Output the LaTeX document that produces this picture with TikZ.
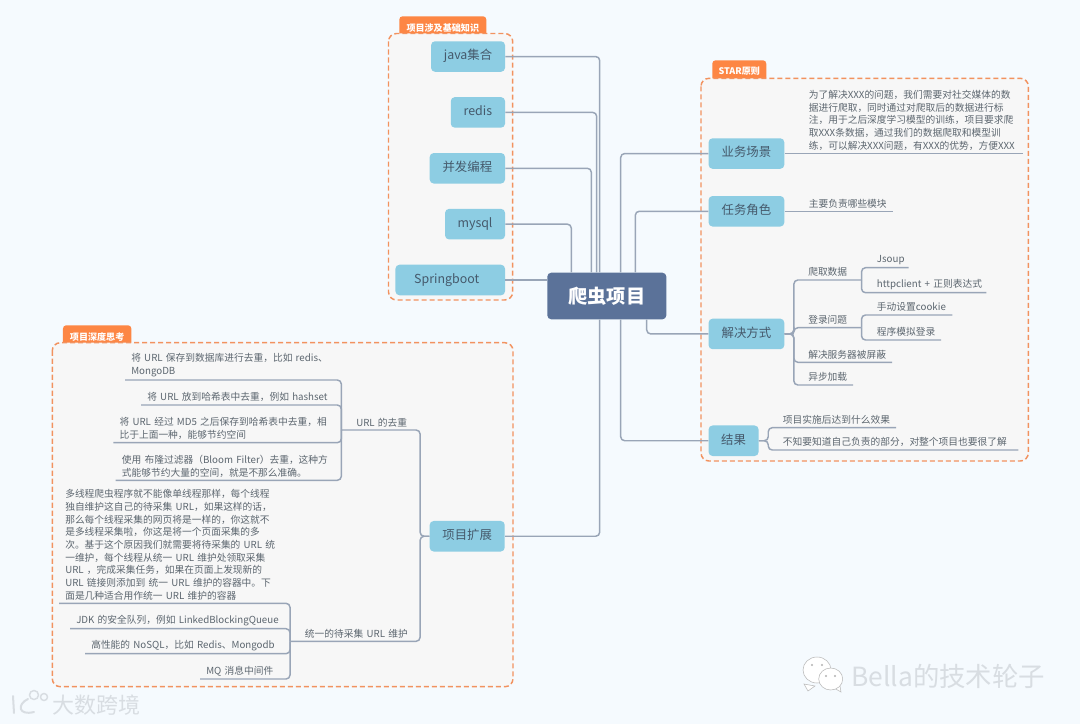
\documentclass[tikz,border=0pt]{standalone}
\usepackage{fontspec}
\setmainfont{Noto Sans CJK SC}
\usepackage{xcolor}
\usetikzlibrary{positioning}
\definecolor{pagebg}{HTML}{F5FAFE}
\definecolor{framebg}{HTML}{F7F7F7}
\definecolor{frameline}{HTML}{F2925F}
\definecolor{tabbg}{HTML}{FD8644}
\definecolor{branchbg}{HTML}{8DCDE3}
\definecolor{rootbg}{HTML}{5B7299}
\definecolor{linkcol}{HTML}{99A5B7}
\definecolor{branchtext}{HTML}{45596B}
\definecolor{leaftext}{HTML}{5C666F}
\definecolor{marktext}{HTML}{D8DDE2}
\tikzset{
  rootbox/.style={fill=rootbg,text=white,rounded corners=3pt,align=center,inner sep=0pt,
    minimum width=89.3pt,minimum height=35pt,font=\fontsize{14.4}{16}\selectfont\bfseries},
  branchbox/.style={fill=branchbg,text=branchtext,rounded corners=3pt,align=center,inner sep=0pt,
    text height=7.5pt,text depth=2.5pt,minimum height=22.9pt,font=\fontsize{9.3}{11}\selectfont},
  leaf/.style={text=leaftext,anchor=south west,align=left,inner xsep=4.5pt,inner ysep=2.2pt,
    text width=(#1-12)*0.75pt,font=\fontsize{7.3}{9.5}\selectfont},
  tabbox/.style={fill=tabbg,text=white,rounded corners=2.5pt,inner sep=0pt,align=center,
    minimum height=17pt,font=\fontsize{6.8}{8}\selectfont\bfseries},
  groupframe/.style={draw=frameline,fill=framebg,line width=1.1pt,rounded corners=6pt,
    dash pattern=on 3.8pt off 2.2pt},
  linkline/.style={draw=linkcol,line width=1.1pt,rounded corners=3pt},
  marklabel/.style={text=marktext,inner sep=0pt,anchor=west},
  markshape/.style={draw=black!28,fill=white,line width=0.4pt},
  logoline/.style={draw=marktext,line width=1.5pt,line cap=round}
}
\begin{document}
\begin{tikzpicture}[x=0.75pt,y=-0.75pt]
  \fill[pagebg] (0,0) rectangle (1080,724);
  \useasboundingbox (0,0) rectangle (1080,724);
  % group frames
  \node[tabbox,minimum width=65.3pt,anchor=north west] (tabbase) at (399,16) {项目涉及基础知识};
  \node[tabbox,minimum width=40.5pt,anchor=north west] (tabstar) at (712,60) {STAR原则};
  \node[tabbox,minimum width=51.3pt,anchor=north west] (tabdeep) at (62.7,325) {项目深度思考};
  \draw[groupframe] (388.5,33.5) rectangle (512.7,300);
  \draw[groupframe] (701,78.3) rectangle (1028.3,461);
  \draw[groupframe] (52.3,342.7) rectangle (513,686.7);
  % centre
  \node[rootbox] (root) at (606.8,296) {爬虫项目};
  % base knowledge
  \node[branchbox,minimum width=55.5pt,anchor=north east] (java) at (505.3,41) {java集合};
  \node[branchbox,minimum width=40.7pt,below=18.6pt of java.south east,anchor=north east] (redis) {redis};
  \node[branchbox,minimum width=56.5pt,below=18.6pt of redis.south east,anchor=north east] (bfbc) {并发编程};
  \node[branchbox,minimum width=45pt,below=18.6pt of bfbc.south east,anchor=north east] (mysql) {mysql};
  \node[branchbox,minimum width=82.2pt,text width=78pt,align=flush left,below=18.6pt of mysql.south east,anchor=north east] (spring) {\hspace{12pt}Springboot};
  \draw[linkline] (java.east) -| (599.7,0 |- root.north);
  \draw[linkline] (redis.east) -| (596.7,0 |- root.north);
  \draw[linkline] (bfbc.east) -| (591.3,0 |- root.north);
  \draw[linkline] (mysql.east) -| (571.3,0 |- root.north);
  \draw[linkline] (spring.east) -- (spring.east -| root.west);
  % STAR
  \node[branchbox,minimum width=56.8pt,anchor=north west] (ywcj) at (708.3,138) {业务场景};
  \node[branchbox,minimum width=56.8pt,below=20pt of ywcj.south west,anchor=north west] (rwjs) {任务角色};
  \node[branchbox,minimum width=56.8pt,below=68.7pt of rwjs.south west,anchor=north west] (jjfs) {解决方式};
  \node[branchbox,minimum width=37.5pt,below=56.8pt of jjfs.south west,anchor=north west] (jieguo) {结果};
  \draw[linkline] (620.7,0 |- root.north) |- (ywcj.west);
  \draw[linkline] (635.3,0 |- root.north) |- (rwjs.west);
  \draw[linkline] (646.7,0 |- root.south) |- (jjfs.west);
  \draw[linkline] (620.7,0 |- root.south) |- (jieguo.west);
  \node[leaf=219.7,right=13.5pt of ywcj.east,anchor=south west] (ywtext)
    {为了解决XXX的问题，我们需要对社交媒体的数\\
    据进行爬取，同时通过对爬取后的数据进行标\\
    注，用于之后深度学习模型的训练，项目要求爬\\
    取XXX条数据，通过我们的数据爬取和模型训\\
    练，可以解决XXX问题，有XXX的优势，方便XXX};
  \node[leaf=89.7,right=13.5pt of rwjs.east,anchor=south west] (rwtext) {主要负责哪些模块};
  \draw[linkline] (ywcj.east) -- (ywtext.south east);
  \draw[linkline] (rwjs.east) -- (rwtext.south east);
  \node[leaf=59] (pqsj) at (802,280) {爬取数据};
  \node[leaf=59] (dlwt) at (802,327.7) {登录问题};
  \node[leaf=89.7] (fwq) at (802,362.3) {解决服务器被屏蔽};
  \node[leaf=50.7] (ybjz) at (802,385) {异步加载};
  \node[leaf=37.3] (jsoup) at (870.7,267.7) {Jsoup};
  \node[leaf=115] (httpc) at (870.7,292.7) {\mbox{httpclient + 正则表达式}};
  \node[leaf=81] (cookie) at (870.7,315) {手动设置cookie};
  \node[leaf=70] (mnlogin) at (870.7,340) {程序模拟登录};
  \draw[linkline] (jjfs.east) -- ++(9.3,0) |- (pqsj.south east);
  \draw[linkline] (jjfs.east) -- ++(9.3,0) |- (dlwt.south east);
  \draw[linkline] (jjfs.east) -- ++(9.3,0) |- (fwq.south east);
  \draw[linkline] (jjfs.east) -- ++(9.3,0) |- (ybjz.south east);
  \draw[linkline] (pqsj.south east) |- (jsoup.south east);
  \draw[linkline] (pqsj.south east) |- (httpc.south east);
  \draw[linkline] (dlwt.south east) |- (cookie.south east);
  \draw[linkline] (dlwt.south east) |- (mnlogin.south east);
  \node[leaf=119] (xmss) at (776.7,427.7) {项目实施后达到什么效果};
  \node[leaf=241] (bzy) at (776.7,450) {不知要知道自己负责的部分，对整个项目也要很了解};
  \draw[linkline] (jieguo.east) -- ++(9.4,0) |- (xmss.south east);
  \draw[linkline] (jieguo.east) -- ++(9.4,0) |- (bzy.south east);
  % extension
  \node[branchbox,minimum width=56.3pt,anchor=north east] (xmkz) at (505,520.7) {项目扩展};
  \draw[linkline] (599.7,0 |- root.south) |- (xmkz.east);
  \node[leaf=70] (urlqc) at (350,430) {URL 的去重};
  \node[leaf=116] (tyurl) at (298.7,641.3) {统一的待采集 URL 维护};
  \draw[linkline] (xmkz.west) -- ++(-9.3,0) |- ([xshift=-6.5pt]urlqc.south west);
  \draw[linkline] (xmkz.west) -- ++(-9.3,0) |- ([xshift=-6.5pt]tyurl.south west);
  \node[leaf=216] (urla) at (125,380) {将 URL 保存到数据库进行去重，比如 redis、\\MongoDB};
  \node[leaf=200] (urlb) at (141,405) {将 URL 放到哈希表中去重，例如 hashset};
  \node[leaf=228] (urlc) at (113.3,442.7) {将 URL 经过 MD5 之后保存到哈希表中去重，相\\比于上面一种，能够节约空间};
  \node[leaf=226] (urld) at (115.7,480.3) {使用 布隆过滤器（Bloom Filter）去重，这种方\\式能够节约大量的空间，就是不那么准确。};
  \draw[linkline] ([xshift=-6.5pt]urlqc.south west) |- (urla.south west);
  \draw[linkline] ([xshift=-6.5pt]urlqc.south west) |- (urlb.south west);
  \draw[linkline] ([xshift=-6.5pt]urlqc.south west) |- (urlc.south west);
  \draw[linkline] ([xshift=-6.5pt]urlqc.south west) |- (urld.south west);
  \node[leaf=230] (tya) at (59,603.3)
    {多线程爬虫程序就不能像单线程那样，每个线程\\
    独自维护这自己的待采集 URL，如果这样的话，\\
    那么每个线程采集的网页将是一样的，你这就不\\
    是多线程采集啦，你这是将一个页面采集的多\\
    次。基于这个原因我们就需要将待采集的 URL 统\\
    一维护，每个线程从统一 URL 维护处领取采集\\
    URL ，完成采集任务，如果在页面上发现新的\\
    URL 链接则添加到 统一 URL 维护的容器中。下\\
    面是几种适合用作统一 URL 维护的容器};
  \node[leaf=219] (tyb) at (70,628.7) {JDK 的安全队列，例如 LinkedBlockingQueue};
  \node[leaf=204] (tyc) at (85,653.7) {高性能的 NoSQL，比如 Redis、Mongodb};
  \node[leaf=89] (tyd) at (200,679) {MQ 消息中间件};
  \draw[linkline] ([xshift=-6.5pt]tyurl.south west) |- (tya.south west);
  \draw[linkline] ([xshift=-6.5pt]tyurl.south west) |- (tyb.south west);
  \draw[linkline] ([xshift=-6.5pt]tyurl.south west) |- (tyc.south west);
  \draw[linkline] ([xshift=-6.5pt]tyurl.south west) |- (tyd.south west);
  % marks in the corners
  \node[marklabel,font=\fontsize{16.5}{18}\selectfont] (dskj) at (52,705) {大数跨境};
  \draw[logoline] (13,696) -- (14,713);
  \draw[logoline] (28,699) .. controls (17,704) and (18,716) .. (34,712);
  \draw[logoline,line width=1.1pt] (34,695) circle (4.5);
  \draw[logoline,line width=1.1pt] (44,697) circle (3.5);
  \draw[markshape] (804,684) -- (808,691) -- (815,686) -- cycle;
  \draw[markshape] (817,670) ellipse (14 and 13);
  \draw[markshape] (840,686) -- (841,692) -- (834,688) -- cycle;
  \draw[markshape] (830.7,679) ellipse (12 and 11);
  \fill[black!30] (812,665) circle (1.2) (822,665) circle (1.2) (826,676) circle (1.1) (835,676) circle (1.1);
  \node[marklabel,font=\fontsize{19.8}{22}\selectfont] (bella) at (851,676) {Bella的技术轮子};
\end{tikzpicture}
\end{document}
